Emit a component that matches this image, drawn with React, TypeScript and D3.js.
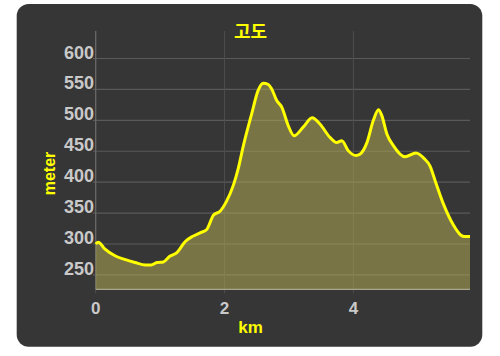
import React from "react";
import * as d3 from "d3";

const distanceKm = [0, 0.04, 0.14, 0.3, 0.45, 0.61, 0.77, 0.86, 0.95, 1.05, 1.15, 1.26, 1.39, 1.5, 1.62, 1.72, 1.83, 1.93, 2.03, 2.14, 2.21, 2.29, 2.42, 2.52, 2.6, 2.68, 2.73, 2.81, 2.89, 2.99, 3.08, 3.22, 3.36, 3.48, 3.64, 3.74, 3.82, 3.92, 4.04, 4.1, 4.21, 4.31, 4.39, 4.44, 4.52, 4.62, 4.8, 4.97, 5.1, 5.19, 5.27, 5.4, 5.55, 5.66, 5.73, 5.81];
const elevationM = [300, 303, 292, 281, 275, 270, 266, 266, 270, 271, 280, 286, 304, 312, 318, 323, 347, 353, 369, 396, 421, 458, 510, 548, 560, 558, 551, 532, 521, 491, 475, 489, 504, 494, 472, 464, 467, 451, 443, 445, 464, 500, 517, 508, 478, 459, 441, 447, 438, 426, 402, 364, 331, 315, 312, 312];
const yTicks = [250, 300, 350, 400, 450, 500, 550, 600];
const xTicks = [0, 2, 4];
const title = "고도";
const xTitle = "km";
const yTitle = "meter";

export default function App() {
  const W = 500, H = 356;
  const left = 95.7, right = 470, top = 31, bottom = 289.3;
  const x = d3.scaleLinear().domain([0, 5.81]).range([left, right]);
  const y = d3.scaleLinear().domain([226.7, 644.5]).range([bottom, top]);
  const pts: [number, number][] = distanceKm.map((d, i) => [d, elevationM[i]]);
  const line = d3.line<[number, number]>().x(d => x(d[0])).y(d => y(d[1])).curve(d3.curveMonotoneX);
  const area = d3.area<[number, number]>().x(d => x(d[0])).y0(bottom).y1(d => y(d[1])).curve(d3.curveMonotoneX);
  const num = "'Liberation Sans', Arial, sans-serif";
  return (
    <svg width={W} height={H} style={{ position: "absolute", left: 0, top: 0 }}>
      <rect x={0} y={0} width={W} height={H} fill="#ffffff" />
      <rect x={16.7} y={4} width={465.6} height={342.7} rx={12} fill="#363636" />
      {yTicks.map(t => (
        <line key={"h" + t} x1={93} x2={right} y1={y(t)} y2={y(t)} stroke="#5a5a5a" strokeWidth={1.2} />
      ))}
      {xTicks.map(t => (
        <line key={"v" + t} x1={x(t)} x2={x(t)} y1={top} y2={bottom + 4} stroke="#4e4e4e" strokeWidth={1} />
      ))}
      <line x1={left} x2={left} y1={top} y2={bottom} stroke="#6a6a6a" strokeWidth={1.2} />
      <path d={area(pts) || ""} fill="rgba(180,172,85,0.53)" />
      <line x1={left} x2={right} y1={bottom} y2={bottom} stroke="#a9a58c" strokeWidth={1.2} />
      <path d={line(pts) || ""} fill="none" stroke="#ffff00" strokeWidth={3} strokeLinejoin="round" />
      {yTicks.map(t => (
        <text key={"yl" + t} x={94} y={y(t)} textAnchor="end" fontFamily={num} fontWeight="bold" fontSize={18} fill="#c9c9c9">{t}</text>
      ))}
      {xTicks.map(t => (
        <text key={"xl" + t} x={x(t)} y={314} textAnchor="middle" fontFamily={num} fontWeight="bold" fontSize={17} fill="#c9c9c9">{t}</text>
      ))}
      <text x={250.5} y={38} textAnchor="middle" fontFamily="'Noto Sans CJK KR', sans-serif" fontWeight="bold" fontSize={18} fill="#ffff00">{title}</text>
      <text x={250.5} y={333} textAnchor="middle" fontFamily={num} fontWeight="bold" fontSize={17} fill="#ffff00">{xTitle}</text>
      <text transform={`translate(55,173.5) rotate(-90)`} textAnchor="middle" fontFamily={num} fontWeight="bold" fontSize={16} fill="#ffff00">{yTitle}</text>
    </svg>
  );
}
